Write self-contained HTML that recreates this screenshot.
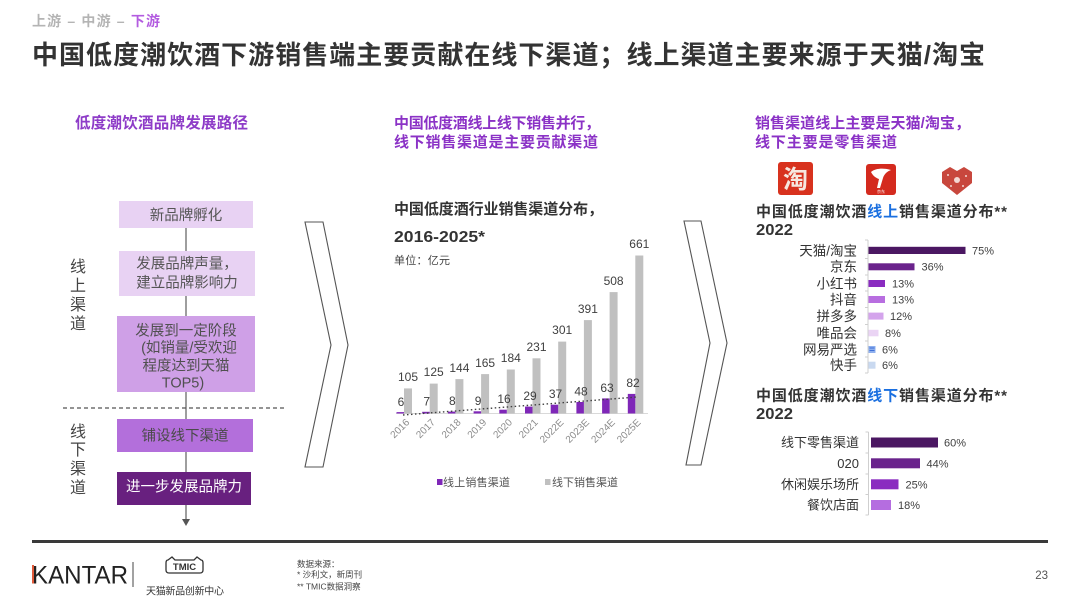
<!DOCTYPE html>
<html><head><meta charset="utf-8"><style>
html,body{margin:0;padding:0;background:#fff;}
svg{display:block;font-family:"Liberation Sans","Noto Sans CJK SC",sans-serif;}
</style></head><body>
<svg width="1080" height="607" viewBox="0 0 1080 607" xmlns="http://www.w3.org/2000/svg">
<rect width="1080" height="607" fill="#fff"/>
<!-- breadcrumb -->
<text x="32" y="26" font-size="14" font-weight="700" fill="#b4b4b4" textLength="128" lengthAdjust="spacing">上游 – 中游 – <tspan fill="#b35ce0">下游</tspan></text>
<!-- title -->
<text x="32" y="64" font-size="26" font-weight="700" fill="#333" textLength="953" lengthAdjust="spacing">中国低度潮饮酒下游销售端主要贡献在线下渠道；线上渠道主要来源于天猫/淘宝</text>

<!-- section headers -->
<text x="75" y="128" font-size="15.5" font-weight="700" fill="#8e3cc8" textLength="173" lengthAdjust="spacing">低度潮饮酒品牌发展路径</text>
<text x="394" y="128" font-size="15" font-weight="700" fill="#8b32c6" textLength="206" lengthAdjust="spacing">中国低度酒线上线下销售并行，</text>
<text x="394" y="147" font-size="15" font-weight="700" fill="#8b32c6" textLength="204" lengthAdjust="spacing">线下销售渠道是主要贡献渠道</text>
<text x="755" y="128" font-size="15" font-weight="700" fill="#8b32c6" textLength="215" lengthAdjust="spacing">销售渠道线上主要是天猫/淘宝，</text>
<text x="755" y="147" font-size="15" font-weight="700" fill="#8b32c6" textLength="142" lengthAdjust="spacing">线下主要是零售渠道</text>

<!-- left flow -->
<line x1="186" y1="228" x2="186" y2="520" stroke="#6a6a6a" stroke-width="1.3"/>
<polygon points="182,519 190,519 186,526" fill="#555"/>
<rect x="119" y="201" width="134" height="27" fill="#e8d2f3"/>
<text x="186" y="220" font-size="14.5" fill="#555" text-anchor="middle">新品牌孵化</text>
<rect x="119" y="251" width="136" height="45" fill="#e8d2f3"/>
<text x="187" y="268.5" font-size="14.5" fill="#555" text-anchor="middle">发展品牌声量，</text>
<text x="187" y="287.5" font-size="14.5" fill="#555" text-anchor="middle">建立品牌影响力</text>
<rect x="117" y="316" width="138" height="76" fill="#cfa0e7"/>
<text x="186" y="335.5" font-size="14.5" fill="#505050" text-anchor="middle">发展到一定阶段</text>
<text x="189" y="352.5" font-size="14.5" fill="#505050" text-anchor="middle">(如销量/受欢迎</text>
<text x="186" y="370.5" font-size="14.5" fill="#505050" text-anchor="middle">程度达到天猫</text>
<text x="183" y="387.5" font-size="14.5" fill="#505050" text-anchor="middle">TOP5)</text>
<line x1="63" y1="408" x2="287" y2="408" stroke="#555" stroke-width="1.2" stroke-dasharray="4,3"/>
<rect x="117" y="419" width="136" height="33" fill="#b36fdb"/>
<text x="185" y="440.5" font-size="14.5" fill="#4a4a4a" text-anchor="middle">铺设线下渠道</text>
<rect x="117" y="472" width="134" height="33" fill="#68207f"/>
<text x="184" y="491.5" font-size="14.5" fill="#fff" text-anchor="middle">进一步发展品牌力</text>
<g font-size="16" fill="#444" text-anchor="middle">
<text x="78" y="272">线</text><text x="78" y="291">上</text><text x="78" y="310">渠</text><text x="78" y="329">道</text>
<text x="78" y="437">线</text><text x="78" y="455">下</text><text x="78" y="474">渠</text><text x="78" y="493">道</text>
</g>

<!-- chevrons -->
<polygon points="305,222 323,222 348,345 323,467 305,467 331,345" fill="#fff" stroke="#555" stroke-width="1.1"/>
<polygon points="684,221 701,221 727,343 701,465 686,465 710,343" fill="#fff" stroke="#555" stroke-width="1.1"/>

<!-- middle chart -->
<text x="394" y="214" font-size="15" font-weight="700" fill="#333" textLength="209" lengthAdjust="spacing">中国低度酒行业销售渠道分布，</text>
<text x="394" y="242" font-size="16" font-weight="700" fill="#333" textLength="91" lengthAdjust="spacingAndGlyphs">2016-2025*</text>
<text x="394" y="264" font-size="11" fill="#444" textLength="56" lengthAdjust="spacing">单位：亿元</text>
<line x1="396" y1="413.5" x2="648" y2="413.5" stroke="#d9d9d9" stroke-width="1"/>
<g fill="#c0c0c0">
<rect x="404" y="388.4" width="8" height="25.1"/>
<rect x="429.7" y="383.6" width="8" height="29.9"/>
<rect x="455.4" y="379.1" width="8" height="34.4"/>
<rect x="481.1" y="374.1" width="8" height="39.4"/>
<rect x="506.8" y="369.5" width="8" height="44"/>
<rect x="532.5" y="358.3" width="8" height="55.2"/>
<rect x="558.2" y="341.6" width="8" height="71.9"/>
<rect x="583.9" y="320.1" width="8" height="93.4"/>
<rect x="609.6" y="292.1" width="8" height="121.4"/>
<rect x="635.3" y="255.5" width="8" height="158"/>
</g>
<g fill="#7f27b8">
<rect x="396.5" y="412.1" width="7.5" height="1.4"/>
<rect x="422.2" y="411.8" width="7.5" height="1.7"/>
<rect x="447.9" y="411.6" width="7.5" height="1.9"/>
<rect x="473.6" y="411.3" width="7.5" height="2.2"/>
<rect x="499.3" y="409.7" width="7.5" height="3.8"/>
<rect x="525" y="406.6" width="7.5" height="6.9"/>
<rect x="550.7" y="404.7" width="7.5" height="8.8"/>
<rect x="576.4" y="402" width="7.5" height="11.5"/>
<rect x="602.1" y="398.4" width="7.5" height="15.1"/>
<rect x="627.8" y="393.9" width="7.5" height="19.6"/>
</g>
<line x1="403" y1="415" x2="637" y2="397" stroke="#404040" stroke-width="1.4" stroke-dasharray="1.5,2.5"/>
<g font-size="12" fill="#404040" text-anchor="middle">
<text x="408" y="381">105</text><text x="433.7" y="376">125</text><text x="459.4" y="372">144</text><text x="485.1" y="367">165</text><text x="510.8" y="362">184</text><text x="536.5" y="351">231</text><text x="562.2" y="334">301</text><text x="587.9" y="313">391</text><text x="613.6" y="285">508</text><text x="639.3" y="248">661</text>
<text x="401" y="406">6</text><text x="426.7" y="405.5">7</text><text x="452.4" y="405">8</text><text x="478.1" y="405">9</text><text x="504" y="403">16</text><text x="530" y="400">29</text><text x="555.5" y="398">37</text><text x="581" y="395.5">48</text><text x="607" y="392">63</text><text x="633" y="387">82</text>
</g>
<g font-size="10" fill="#8c8c8c" text-anchor="end">
<text transform="translate(410,423) rotate(-45)">2016</text>
<text transform="translate(435.7,423) rotate(-45)">2017</text>
<text transform="translate(461.4,423) rotate(-45)">2018</text>
<text transform="translate(487.1,423) rotate(-45)">2019</text>
<text transform="translate(512.8,423) rotate(-45)">2020</text>
<text transform="translate(538.5,423) rotate(-45)">2021</text>
<text transform="translate(564.2,423) rotate(-45)">2022E</text>
<text transform="translate(589.9,423) rotate(-45)">2023E</text>
<text transform="translate(615.6,423) rotate(-45)">2024E</text>
<text transform="translate(641.3,423) rotate(-45)">2025E</text>
</g>
<rect x="437" y="479" width="5.5" height="6" fill="#7f27b8"/>
<text x="443" y="486" font-size="11" fill="#555" textLength="67" lengthAdjust="spacing">线上销售渠道</text>
<rect x="545" y="479" width="5.5" height="6" fill="#c0c0c0"/>
<text x="552" y="486" font-size="11" fill="#555" textLength="66" lengthAdjust="spacing">线下销售渠道</text>

<!-- logos -->
<rect x="778" y="162" width="35" height="33" rx="3" fill="#d8321e"/>
<text x="795.5" y="188" font-size="25" font-weight="700" fill="#f6e8e0" text-anchor="middle">淘</text>
<rect x="866" y="164" width="30" height="31" rx="3" fill="#d42a1e"/>
<path d="M871,172 C876,168 884,168 891,170 C886,172 884,175 883,178 L880,188 L877,188 L879,179 C876,178 873,176 871,172 Z" fill="#fff"/>
<text x="881" y="193" font-size="4" fill="#fff" text-anchor="middle">京东</text>
<path d="M957,195 L942,183 L942,172 L950,167 L957,171 L964,167 L972,172 L972,183 Z" fill="#c8473d"/>
<circle cx="957" cy="180" r="3" fill="#f3d9d4"/><circle cx="948" cy="175" r="1" fill="#f3d9d4"/><circle cx="966" cy="176" r="1" fill="#f3d9d4"/><circle cx="951" cy="186" r="1" fill="#f3d9d4"/><circle cx="963" cy="186" r="1" fill="#f3d9d4"/>

<!-- right chart 1 -->
<text x="756" y="216.5" font-size="15" font-weight="700" fill="#333" textLength="251" lengthAdjust="spacing">中国低度潮饮酒<tspan fill="#1a6fe0">线上</tspan>销售渠道分布**</text>
<text x="756" y="235" font-size="16" font-weight="700" fill="#333" textLength="37" lengthAdjust="spacingAndGlyphs">2022</text>
<line x1="868" y1="240" x2="868" y2="373" stroke="#cfcfcf" stroke-width="1"/>
<g stroke="#cfcfcf" stroke-width="1">
<line x1="865" y1="240" x2="868" y2="240"/><line x1="865" y1="258.5" x2="868" y2="258.5"/><line x1="865" y1="275" x2="868" y2="275"/><line x1="865" y1="291" x2="868" y2="291"/><line x1="865" y1="307.5" x2="868" y2="307.5"/><line x1="865" y1="324.5" x2="868" y2="324.5"/><line x1="865" y1="341" x2="868" y2="341"/><line x1="865" y1="357" x2="868" y2="357"/><line x1="865" y1="373" x2="868" y2="373"/>
</g>
<rect x="868.5" y="246.8" width="97" height="7.2" fill="#4b1762"/>
<rect x="868.5" y="263.3" width="46" height="7" fill="#6a238c"/>
<rect x="868.5" y="280" width="16.5" height="7" fill="#8a2cc0"/>
<rect x="868.5" y="296" width="16.5" height="7" fill="#b86ee0"/>
<rect x="868.5" y="312.6" width="15" height="7" fill="#d4a4ec"/>
<rect x="868.5" y="329.8" width="10" height="6.5" fill="#ead4f4"/>
<rect x="868.5" y="346" width="7" height="7" fill="#8fb0ee"/>
<rect x="869.5" y="347.5" width="5" height="1" fill="#3f70d8"/><rect x="869.5" y="350" width="5" height="1" fill="#3f70d8"/>
<rect x="868.5" y="361.7" width="7" height="7" fill="#c9d9f0"/>
<g font-size="13.5" fill="#333" text-anchor="end">
<text x="857" y="255.3">天猫/淘宝</text><text x="857" y="271.7">京东</text><text x="857" y="288.3">小红书</text><text x="857" y="304.3">抖音</text><text x="857" y="321">拼多多</text><text x="857" y="338">唯品会</text><text x="857" y="354.3">网易严选</text><text x="857" y="370">快手</text>
</g>
<g font-size="11" fill="#404040">
<text x="972" y="254.3">75%</text><text x="921.5" y="270.7">36%</text><text x="892" y="287.3">13%</text><text x="892" y="303.3">13%</text><text x="890" y="320">12%</text><text x="885" y="337">8%</text><text x="882" y="353.3">6%</text><text x="882" y="369">6%</text>
</g>

<!-- right chart 2 -->
<text x="756" y="400.5" font-size="15" font-weight="700" fill="#333" textLength="251" lengthAdjust="spacing">中国低度潮饮酒<tspan fill="#1a6fe0">线下</tspan>销售渠道分布**</text>
<text x="756" y="419" font-size="16" font-weight="700" fill="#333" textLength="37" lengthAdjust="spacingAndGlyphs">2022</text>
<line x1="868.5" y1="432" x2="868.5" y2="515" stroke="#cfcfcf" stroke-width="1"/>
<g stroke="#cfcfcf" stroke-width="1">
<line x1="865.5" y1="432" x2="868.5" y2="432"/><line x1="865.5" y1="453" x2="868.5" y2="453"/><line x1="865.5" y1="474" x2="868.5" y2="474"/><line x1="865.5" y1="494.5" x2="868.5" y2="494.5"/><line x1="865.5" y1="515" x2="868.5" y2="515"/>
</g>
<rect x="871" y="437.5" width="67" height="10" fill="#4b1762"/>
<rect x="871" y="458.3" width="49" height="10" fill="#6a238c"/>
<rect x="871" y="479.3" width="27.5" height="10" fill="#8a2cc0"/>
<rect x="871" y="500" width="20" height="10" fill="#b56de0"/>
<g font-size="13" fill="#333" text-anchor="end">
<text x="859" y="447">线下零售渠道</text><text x="859" y="468">020</text><text x="859" y="489">休闲娱乐场所</text><text x="859" y="509.7">餐饮店面</text>
</g>
<g font-size="11" fill="#404040">
<text x="944" y="446.5">60%</text><text x="926.5" y="467.3">44%</text><text x="905.5" y="488.3">25%</text><text x="898" y="509">18%</text>
</g>

<!-- footer -->
<rect x="32" y="540" width="1016" height="3" fill="#3a3a3a"/>
<text x="32" y="583.5" font-size="25" fill="#222" textLength="96" lengthAdjust="spacingAndGlyphs">KANTAR</text>
<rect x="32" y="565" width="2" height="18.5" fill="#e05a3a"/>
<line x1="133" y1="562" x2="133" y2="587" stroke="#444" stroke-width="1"/>
<path d="M168,560 L172,557 L175,560 L194,560 L197,557 L201,560 Q203,560 203,563 L203,570 Q203,573 200,573 L169,573 Q166,573 166,570 L166,563 Q166,560 168,560 Z" fill="none" stroke="#333" stroke-width="1.3"/>
<text x="184.5" y="570" font-size="9.5" font-weight="700" fill="#333" text-anchor="middle">TMIC</text>
<text x="146" y="594.5" font-size="10" fill="#333" textLength="78" lengthAdjust="spacing">天猫新品创新中心</text>
<g font-size="8.5" fill="#444">
<text x="297" y="567">数据来源：</text>
<text x="297" y="577.5">* 沙利文，新周刊</text>
<text x="297" y="589.5">** TMIC数据洞察</text>
</g>
<text x="1048" y="579" font-size="11.5" fill="#555" text-anchor="end">23</text>
</svg>
</body></html>
